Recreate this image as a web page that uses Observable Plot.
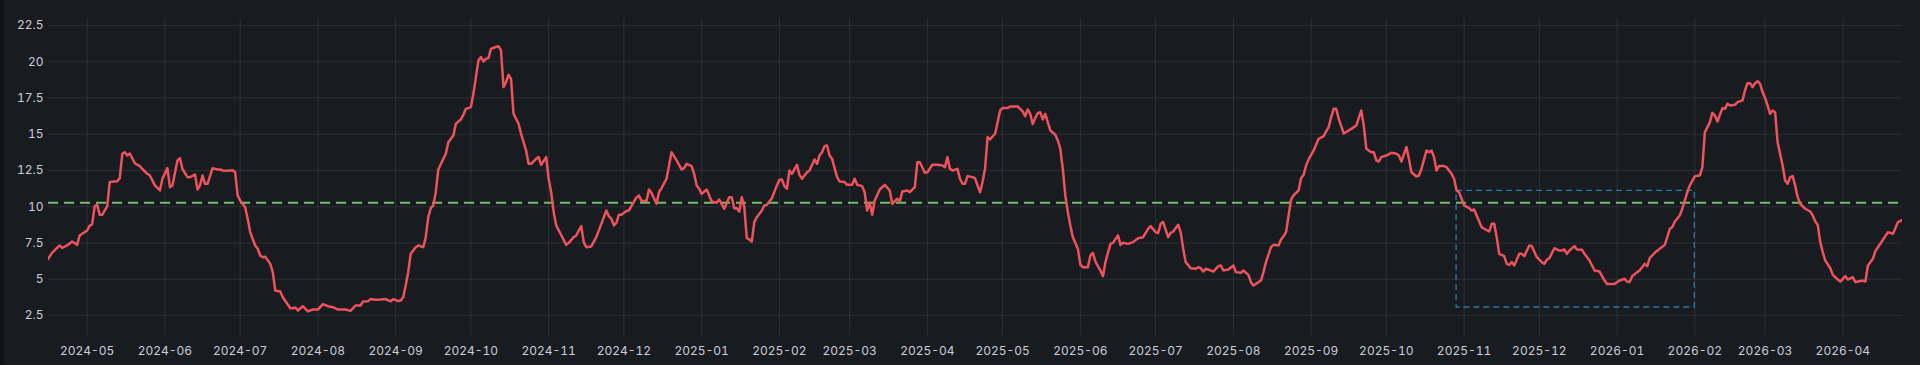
<!DOCTYPE html>
<html><head><meta charset="utf-8">
<script src="https://cdn.jsdelivr.net/npm/d3@7"></script>
<script src="https://cdn.jsdelivr.net/npm/@observablehq/plot@0.6"></script>
<style>
html,body{margin:0;padding:0;background:#111217;}
#wrap{position:relative;width:1920px;height:365px;background:#181b1f;overflow:hidden;}
#edge{position:absolute;left:0;top:0;width:4px;height:365px;background:#111217;}
#wrap svg{position:absolute;left:0;top:0;}
</style></head><body><div id="wrap"><div id="edge"></div></div>
<script>
const dates = [
"2024-04-15","2024-04-17","2024-04-20","2024-04-21","2024-04-23","2024-04-25","2024-04-27","2024-04-28",
"2024-05-01","2024-05-02","2024-05-03","2024-05-04","2024-05-05","2024-05-06","2024-05-07","2024-05-09","2024-05-10","2024-05-13","2024-05-14","2024-05-15","2024-05-16","2024-05-17","2024-05-18","2024-05-20","2024-05-22","2024-05-23","2024-05-25","2024-05-26","2024-05-28","2024-05-30","2024-05-31",
"2024-06-02","2024-06-03","2024-06-04","2024-06-06","2024-06-07","2024-06-08","2024-06-10","2024-06-11","2024-06-13","2024-06-14","2024-06-15","2024-06-16","2024-06-17","2024-06-18","2024-06-20","2024-06-22","2024-06-23","2024-06-24","2024-06-26","2024-06-28","2024-06-29","2024-06-30",
"2024-07-01","2024-07-03","2024-07-04","2024-07-05","2024-07-07","2024-07-08","2024-07-09","2024-07-10","2024-07-11","2024-07-13","2024-07-14","2024-07-15","2024-07-17","2024-07-18","2024-07-21","2024-07-22","2024-07-23","2024-07-24","2024-07-26","2024-07-28","2024-07-30",
"2024-08-01","2024-08-03","2024-08-05","2024-08-07","2024-08-09","2024-08-12","2024-08-14","2024-08-16","2024-08-18","2024-08-19","2024-08-21","2024-08-22","2024-08-24","2024-08-26","2024-08-28","2024-08-30","2024-08-31",
"2024-09-02","2024-09-03","2024-09-04","2024-09-05","2024-09-06","2024-09-07","2024-09-09","2024-09-10","2024-09-12","2024-09-13","2024-09-14","2024-09-15","2024-09-16","2024-09-17","2024-09-18","2024-09-20","2024-09-21","2024-09-22","2024-09-24","2024-09-25","2024-09-27","2024-09-28","2024-09-29",
"2024-10-01","2024-10-02","2024-10-04","2024-10-05","2024-10-06","2024-10-07","2024-10-08","2024-10-09","2024-10-10","2024-10-12","2024-10-13","2024-10-14","2024-10-15","2024-10-16","2024-10-17","2024-10-18","2024-10-20","2024-10-21","2024-10-22","2024-10-23","2024-10-24","2024-10-25","2024-10-27","2024-10-28","2024-10-29","2024-10-31",
"2024-11-01","2024-11-02","2024-11-03","2024-11-04","2024-11-06","2024-11-08","2024-11-09","2024-11-11","2024-11-12","2024-11-14","2024-11-15","2024-11-16","2024-11-18","2024-11-20","2024-11-22","2024-11-24","2024-11-25","2024-11-26","2024-11-27","2024-11-28","2024-11-29","2024-11-30",
"2024-12-02","2024-12-03","2024-12-04","2024-12-06","2024-12-07","2024-12-08","2024-12-10","2024-12-11","2024-12-12","2024-12-14","2024-12-15","2024-12-16","2024-12-18","2024-12-20","2024-12-22","2024-12-24","2024-12-25","2024-12-26","2024-12-28","2024-12-29","2024-12-30","2024-12-31",
"2025-01-01","2025-01-03","2025-01-05","2025-01-07","2025-01-08","2025-01-10","2025-01-12","2025-01-13","2025-01-14","2025-01-15","2025-01-16","2025-01-17","2025-01-18","2025-01-19","2025-01-20","2025-01-21","2025-01-22","2025-01-23","2025-01-25","2025-01-26","2025-01-27","2025-01-29","2025-01-31",
"2025-02-01","2025-02-02","2025-02-03","2025-02-04","2025-02-05","2025-02-06","2025-02-08","2025-02-09","2025-02-10","2025-02-12","2025-02-13","2025-02-15","2025-02-16","2025-02-17","2025-02-18","2025-02-19","2025-02-20","2025-02-21","2025-02-22","2025-02-24","2025-02-25","2025-02-27","2025-02-28",
"2025-03-02","2025-03-03","2025-03-04","2025-03-06","2025-03-07","2025-03-08","2025-03-09","2025-03-10","2025-03-11","2025-03-13","2025-03-15","2025-03-17","2025-03-18","2025-03-20","2025-03-21","2025-03-22","2025-03-24","2025-03-25","2025-03-27","2025-03-28","2025-03-29","2025-03-31",
"2025-04-01","2025-04-03","2025-04-05","2025-04-07","2025-04-08","2025-04-09","2025-04-10","2025-04-11","2025-04-13","2025-04-14","2025-04-15","2025-04-16","2025-04-17","2025-04-19","2025-04-20","2025-04-21","2025-04-22","2025-04-23","2025-04-24","2025-04-25","2025-04-26","2025-04-28","2025-04-29","2025-04-30",
"2025-05-01","2025-05-03","2025-05-04","2025-05-07","2025-05-08","2025-05-09","2025-05-10","2025-05-11","2025-05-12","2025-05-13","2025-05-14","2025-05-15","2025-05-16","2025-05-17","2025-05-18","2025-05-19","2025-05-20","2025-05-22","2025-05-23","2025-05-24","2025-05-25","2025-05-26","2025-05-27","2025-05-28","2025-05-29","2025-05-31",
"2025-06-01","2025-06-02","2025-06-04","2025-06-05","2025-06-06","2025-06-07","2025-06-09","2025-06-10","2025-06-11","2025-06-12","2025-06-13","2025-06-14","2025-06-16","2025-06-17","2025-06-18","2025-06-20","2025-06-22","2025-06-24","2025-06-26","2025-06-28","2025-06-29",
"2025-07-01","2025-07-02","2025-07-03","2025-07-04","2025-07-06","2025-07-07","2025-07-08","2025-07-10","2025-07-11","2025-07-12","2025-07-13","2025-07-15","2025-07-17","2025-07-18","2025-07-19","2025-07-20","2025-07-21","2025-07-23","2025-07-24","2025-07-26","2025-07-27","2025-07-28","2025-07-30",
"2025-08-01","2025-08-02","2025-08-04","2025-08-05","2025-08-07","2025-08-08","2025-08-09","2025-08-10","2025-08-12","2025-08-13","2025-08-14","2025-08-16","2025-08-17","2025-08-19","2025-08-20","2025-08-21","2025-08-22","2025-08-24","2025-08-25","2025-08-27","2025-08-28","2025-08-29","2025-08-30","2025-08-31",
"2025-09-02","2025-09-04","2025-09-06","2025-09-07","2025-09-08","2025-09-09","2025-09-10","2025-09-11","2025-09-12","2025-09-14","2025-09-17","2025-09-19","2025-09-21","2025-09-22","2025-09-23","2025-09-25","2025-09-26","2025-09-27","2025-09-28","2025-09-29",
"2025-10-01","2025-10-03","2025-10-05","2025-10-06","2025-10-07","2025-10-09","2025-10-10","2025-10-11","2025-10-13","2025-10-14","2025-10-15","2025-10-17","2025-10-18","2025-10-19","2025-10-20","2025-10-21","2025-10-22","2025-10-24","2025-10-25","2025-10-27","2025-10-28","2025-10-29","2025-10-30","2025-10-31",
"2025-11-01","2025-11-03","2025-11-04","2025-11-05","2025-11-06","2025-11-08","2025-11-09","2025-11-11","2025-11-12","2025-11-13","2025-11-14","2025-11-15","2025-11-17","2025-11-18","2025-11-19","2025-11-20","2025-11-21","2025-11-23","2025-11-24","2025-11-25","2025-11-27","2025-11-28","2025-11-30",
"2025-12-02","2025-12-03","2025-12-04","2025-12-05","2025-12-07","2025-12-09","2025-12-10","2025-12-11","2025-12-12","2025-12-13","2025-12-15","2025-12-16","2025-12-18","2025-12-19","2025-12-21","2025-12-22","2025-12-23","2025-12-25","2025-12-27","2025-12-28","2025-12-31",
"2026-01-02","2026-01-04","2026-01-05","2026-01-06","2026-01-07","2026-01-09","2026-01-10","2026-01-12","2026-01-13","2026-01-14","2026-01-16","2026-01-18","2026-01-20","2026-01-21","2026-01-22","2026-01-23","2026-01-24","2026-01-26","2026-01-27","2026-01-28","2026-01-29","2026-01-30",
"2026-02-01","2026-02-03","2026-02-04","2026-02-05","2026-02-06","2026-02-07","2026-02-08","2026-02-09","2026-02-10","2026-02-12","2026-02-13","2026-02-14","2026-02-15","2026-02-17","2026-02-18","2026-02-20","2026-02-21","2026-02-22","2026-02-23","2026-02-24","2026-02-25","2026-02-26","2026-02-27","2026-02-28",
"2026-03-01","2026-03-02","2026-03-03","2026-03-04","2026-03-05","2026-03-06","2026-03-08","2026-03-09","2026-03-10","2026-03-11","2026-03-12","2026-03-13","2026-03-14","2026-03-15","2026-03-17","2026-03-19","2026-03-20","2026-03-21","2026-03-22","2026-03-23","2026-03-24","2026-03-25","2026-03-27","2026-03-28","2026-03-30","2026-03-31",
"2026-04-02","2026-04-03","2026-04-05","2026-04-06","2026-04-07","2026-04-09","2026-04-10","2026-04-11","2026-04-13","2026-04-14","2026-04-17","2026-04-19","2026-04-21","2026-04-23","2026-04-25"
];
const values = [
6.3,6.82,7.33,7.17,7.33,7.6,7.37,8.02,
8.36,8.7,8.78,10.04,10.13,9.44,9.44,10.04,11.7,11.76,11.97,13.65,13.76,13.53,13.67,13.0,12.8,12.6,12.27,12.15,11.47,11.12,11.93,
12.66,11.35,11.47,13.19,13.35,12.6,12.04,12.04,12.22,11.19,11.47,12.15,11.58,11.58,12.66,12.57,12.57,12.5,12.48,12.52,12.38,10.78,
10.43,9.97,9.17,8.25,7.33,7.1,6.64,6.52,6.55,6.06,5.49,4.22,4.16,3.76,3.0,3.0,3.05,2.84,3.14,2.78,2.91,
2.91,3.28,3.14,3.07,2.91,2.91,2.82,3.19,3.19,3.47,3.49,3.63,3.58,3.6,3.63,3.47,3.63,
3.49,3.53,3.76,4.57,5.49,6.75,7.21,7.33,7.21,7.9,9.28,9.9,10.09,11.0,12.57,13.3,13.65,14.45,14.91,15.72,16.02,16.34,16.75,
16.87,17.79,20.09,20.32,20.02,20.2,20.25,20.89,20.96,21.07,20.78,18.25,18.59,19.1,18.82,16.41,15.72,15.03,14.45,13.88,12.96,12.96,13.3,13.42,12.89,13.42,
11.93,11.0,9.63,8.71,8.05,7.37,7.51,7.9,8.02,8.66,7.56,7.21,7.26,7.9,8.82,9.74,9.35,9.17,8.71,8.89,9.44,9.44,
9.7,9.74,10.04,10.64,10.78,10.41,10.39,11.19,10.96,10.2,11.0,11.28,11.93,13.76,13.19,12.57,12.66,12.96,12.8,12.27,11.47,11.24,
10.89,11.19,10.36,10.27,10.5,9.86,10.66,10.66,9.9,9.9,9.67,10.66,9.97,7.83,7.74,7.6,8.94,9.28,9.74,10.09,10.13,10.59,11.47,
11.86,11.88,11.42,11.24,12.5,12.27,12.89,12.2,11.93,12.38,12.5,13.26,12.96,13.53,13.76,14.18,14.22,13.53,13.3,12.04,11.74,11.7,11.51,
11.51,11.93,11.51,11.42,11.0,9.74,10.27,9.44,10.43,11.19,11.51,11.12,10.2,10.55,10.36,11.05,11.12,11.0,11.35,13.07,13.07,12.34,
12.38,12.89,12.89,12.84,12.73,13.42,12.61,12.5,12.61,11.93,11.58,11.58,12.11,12.04,11.97,11.47,11.0,11.7,12.61,14.8,14.64,15.03,15.83,16.64,
16.8,16.8,16.91,16.91,16.75,16.57,16.25,16.71,16.41,15.7,16.11,16.45,16.52,16.02,16.41,15.83,15.26,14.96,14.57,14.0,12.61,10.78,9.63,8.71,7.9,7.1,
6.0,5.83,5.83,6.64,6.82,6.22,5.6,5.21,6.18,6.82,7.44,7.51,8.02,7.37,7.51,7.44,7.56,7.83,7.9,8.48,8.66,
8.25,8.18,8.82,8.94,7.9,8.2,8.29,8.75,8.25,7.1,6.18,5.76,5.72,5.83,5.76,5.53,5.72,5.6,5.53,5.9,5.95,5.6,5.67,
5.95,5.49,5.44,5.6,5.3,4.8,4.57,4.68,4.91,5.49,6.18,7.21,7.37,7.33,7.74,7.97,8.25,10.5,10.78,11.12,11.97,12.2,12.84,13.26,
13.88,14.68,14.87,15.19,15.49,16.18,16.75,16.75,16.07,15.05,15.37,15.6,16.64,15.6,14.0,13.76,13.76,13.19,13.12,13.42,
13.53,13.72,13.65,13.53,13.12,14.11,13.3,12.38,12.09,12.15,12.61,13.88,13.76,13.88,13.42,12.5,12.8,12.8,12.73,12.27,11.93,11.12,11.0,10.55,
10.09,9.9,9.74,9.81,9.4,8.59,8.48,8.29,8.82,8.82,7.9,6.75,6.59,6.06,5.99,6.18,5.95,6.75,6.75,6.59,7.33,7.28,6.52,
6.18,6.06,6.36,6.45,7.14,6.98,6.98,7.05,6.75,6.98,7.28,7.05,7.03,6.75,6.29,5.95,5.6,5.53,4.91,4.68,4.68,
4.91,5.03,4.84,4.8,5.21,5.49,5.6,6.06,5.9,6.45,6.82,7.1,7.37,7.9,8.48,8.59,8.98,9.4,9.86,10.43,11.0,11.47,
12.11,12.16,12.73,15.14,15.49,15.83,16.48,16.29,15.88,16.8,16.75,17.1,16.98,17.03,17.21,17.33,18.02,18.52,18.52,18.25,18.52,18.66,18.48,17.91,
17.49,16.98,16.41,16.64,16.52,14.45,12.84,11.81,11.58,12.04,12.11,11.47,10.66,10.2,9.86,9.67,9.4,8.98,8.75,7.56,6.87,6.29,5.76,5.3,4.98,4.84,
5.21,4.98,5.14,4.8,4.84,4.91,4.84,5.95,6.41,6.95,7.72,8.25,8.14,8.94,9.1
];
const monthTicks = ["2024-05","2024-06","2024-07","2024-08","2024-09","2024-10","2024-11","2024-12",
"2025-01","2025-02","2025-03","2025-04","2025-05","2025-06","2025-07","2025-08","2025-09","2025-10","2025-11","2025-12",
"2026-01","2026-02","2026-03","2026-04"];
const yTicks = [2.5,5,7.5,10,12.5,15,17.5,20,22.5];
const thresholdValue = 10.27;
const regionStart = "2025-10-29", regionEnd = "2026-02-01", regionLow = 3.05, regionHigh = 11.1;

const parseDay = d3.utcParse("%Y-%m-%d");
const parseMonth = d3.utcParse("%Y-%m");
const data = dates.map((d, i) => ({date: parseDay(d), value: values[i]}));
const months = monthTicks.map(parseMonth);
const region = [{x1: parseDay(regionStart), x2: parseDay(regionEnd), y1: regionLow, y2: regionHigh}];
const gridColor = "rgba(240,250,255,0.09)";

const chart = Plot.plot({
  width: 1920, height: 365,
  marginLeft: 48, marginRight: 18, marginTop: 18, marginBottom: 30,
  style: {background: "transparent", color: "#ccccdc", fontFamily: "Inter, sans-serif", fontSize: "12px"},
  x: {type: "utc", domain: [new Date(Date.UTC(2024,3,15,14)), new Date(Date.UTC(2026,3,24,19))]},
  y: {domain: [1.12, 22.98]},
  marks: [
    Plot.gridY(yTicks, {stroke: gridColor, strokeOpacity: 1}),
    Plot.gridX(months, {stroke: gridColor, strokeOpacity: 1}),
    Plot.axisY(yTicks, {tickSize: 0, tickPadding: 5, tickFormat: d => String(d), fill: "#ccccdc"}),
    Plot.axisX(months, {tickSize: 0, tickPadding: 11, tickFormat: d3.utcFormat("%Y-%m"), fill: "#ccccdc"}),
    Plot.rect(region, {x1: "x1", x2: "x2", y1: "y1", y2: "y2", fill: "none", stroke: "#2a7aa8", strokeWidth: 1.3, strokeDasharray: "6,4"}),
    Plot.ruleY([thresholdValue], {stroke: "#73bf69", strokeWidth: 2, strokeDasharray: "10,6"}),
    Plot.lineY(data, {x: "date", y: "value", stroke: "#ee535d", strokeWidth: 2.5, clip: true})
  ]
});
document.getElementById("wrap").appendChild(chart);
</script></body></html>
